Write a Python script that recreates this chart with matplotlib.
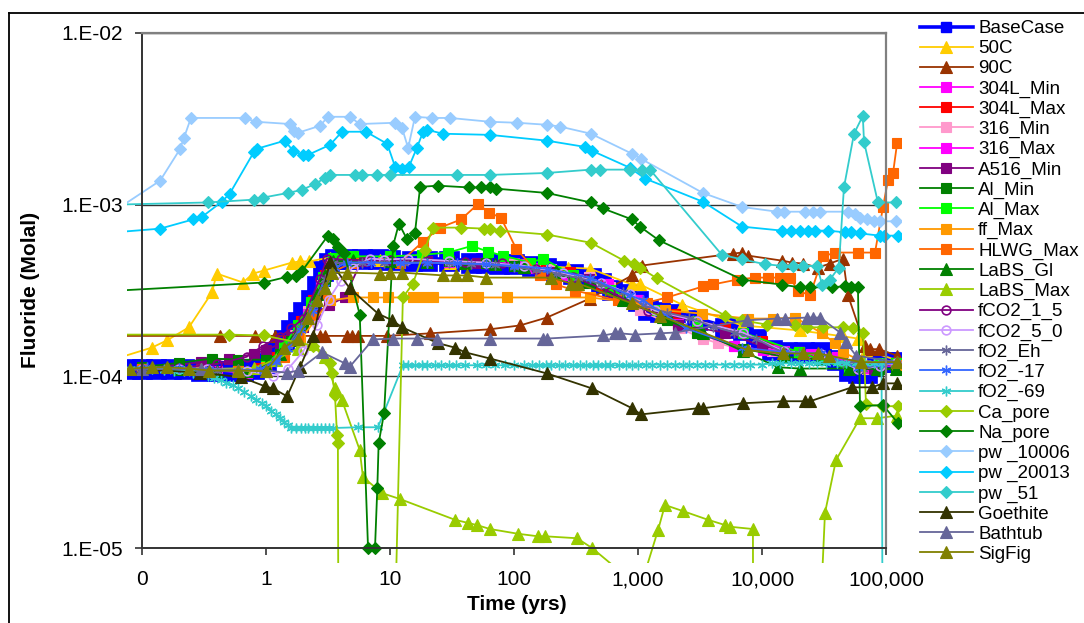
import matplotlib
matplotlib.use("Agg")
import matplotlib.pyplot as plt
from matplotlib.transforms import Bbox, TransformedBbox
from matplotlib.ticker import NullLocator, FixedLocator, FixedFormatter
from matplotlib.lines import Line2D

plt.rcParams['font.family'] = ['Liberation Sans', 'DejaVu Sans']

# ---------------- data: time (yrs) and fluoride (units of 1e-4 molal) ----------------
t_basecase = [0.06, 0.08, 0.1, 0.13, 0.17, 0.22, 0.3, 0.4, 0.5, 0.65, 0.8, 1.0, 1.2, 1.4, 1.6, 1.8, 2.0, 2.3, 2.6, 2.9,
              3.2, 3.6, 4.5, 6, 8, 10, 15, 20, 30, 45, 60, 75, 100, 140, 180, 220, 300, 420, 500, 620,
              800, 1000, 1200, 1500, 2000, 3000, 5000, 7000, 9000, 12000, 16000, 22000, 30000, 40000, 50000,
              60000, 70000, 85000, 100000, 120000]
f_basecase = [1.11, 1.11, 1.11, 1.11, 1.11, 1.1, 1.08, 1.07, 1.07, 1.08, 1.1, 1.2, 1.38, 1.62, 1.85, 2.06, 2.36, 2.77, 3.38, 4.13,
              4.6, 4.85, 4.85, 4.85, 4.85, 4.79, 4.72, 4.72, 4.67, 4.6, 4.6, 4.54, 4.5, 4.4, 4.3, 4.1, 3.95, 3.76, 3.5, 3.2,
              3.0, 2.75, 2.45, 2.36, 2.32, 2.12, 1.9, 1.85, 1.66, 1.42, 1.38, 1.38, 1.38, 1.24, 1.08,
              1.05, 1.05, 1.21, 1.21, 1.21]

t_50c = [0.06, 0.12, 0.159, 0.239, 0.367, 0.40, 0.653, 0.786, 0.96, 1.62, 1.88, 2.22, 3.28, 8.3, 30.5, 112, 272, 410,
         895, 1037, 2260, 6900, 20200, 45000, 59400, 69000, 123000]
f_50c = [1.26, 1.47, 1.62, 1.93, 3.08, 3.97, 3.52, 3.97, 4.13, 4.6, 4.67, 4.67, 4.92, 4.79, 4.6, 4.48, 4.3, 4.24,
         3.43, 3.43, 2.62, 1.98, 1.85, 1.71, 1.66, 1.42, 1.24]

t_90c = [0.06, 0.426, 0.815, 1.18, 2.72, 3.0, 4.5, 4.94, 5.5, 9.5, 21, 64, 112, 184, 410, 895, 1076, 5840, 6900, 7700,
         14500, 17500, 21400, 28300, 35300, 45000, 49400, 67800, 74300, 87900, 123000]
f_90c = [1.72, 1.72, 1.72, 1.72, 1.72, 1.72, 1.72, 1.72, 1.72, 1.72, 1.78, 1.88, 1.98, 2.2, 2.84, 3.87, 4.42, 5.19, 5.26, 5.05,
         4.72, 4.6, 4.54, 4.3, 4.54, 4.85, 2.96, 1.51, 1.44, 1.44, 1.32]

t_304l_min = [0.06, 0.1, 0.2, 0.4, 0.7, 1.0, 1.3, 1.6, 2.0, 2.5, 3.0, 3.5, 5, 10, 20, 50, 100, 118, 142, 250,
              573, 1000, 2100, 3050, 6000, 10200, 15000, 25000, 40000, 60000, 80000, 120000]
f_304l_min = [1.1, 1.1, 1.1, 1.08, 1.05, 1.12, 1.3, 1.6, 2.0, 2.7, 3.7, 4.6, 4.8, 4.75, 4.7, 4.6, 4.55, 4.54, 4.3, 3.9,
              3.43, 2.8, 2.03, 1.78, 1.5, 1.42, 1.4, 1.35, 1.3, 1.2, 1.15, 1.15]

t_304l_max = [0.06, 0.1, 0.3, 0.6, 0.9, 1.2, 1.5, 1.9, 2.4, 3.0, 3.5, 5, 10, 30, 60, 100, 180, 283, 500, 1000,
              2000, 5000, 10000, 20000, 50000, 90000, 120000]
f_304l_max = [1.1, 1.1, 1.08, 1.07, 1.12, 1.3, 1.6, 2.1, 2.8, 3.9, 4.7, 4.85, 4.8, 4.7, 4.6, 4.45, 4.2, 4.08, 3.4, 2.7,
              2.3, 1.9, 1.6, 1.38, 1.12, 1.2, 1.2]

t_316_min = [0.06, 0.1, 0.3, 0.6, 1.0, 1.3, 1.7, 2.2, 2.8, 3.4, 5, 10, 30, 60, 100, 200, 400, 600, 1037, 2180,
             3340, 4420, 7300, 12000, 20000, 40000, 70000, 120000]
f_316_min = [1.1, 1.1, 1.08, 1.07, 1.15, 1.35, 1.75, 2.4, 3.4, 4.5, 4.8, 4.75, 4.7, 4.6, 4.5, 4.2, 3.8, 3.3, 2.42, 1.9,
             1.66, 1.56, 1.42, 1.4, 1.38, 1.3, 1.1, 1.2]

t_316_max = [0.06, 0.1, 0.3, 0.6, 1.0, 1.3, 1.7, 2.2, 2.8, 3.4, 5, 10, 30, 60, 118, 142, 300, 573, 1000, 2100,
             3050, 6000, 10200, 13000, 20000, 40000, 70000, 120000]
f_316_max = [1.1, 1.1, 1.08, 1.07, 1.12, 1.32, 1.7, 2.3, 3.3, 4.4, 4.75, 4.7, 4.65, 4.6, 4.54, 4.3, 3.85, 3.43, 2.8, 2.03,
             1.78, 1.5, 1.42, 1.43, 1.38, 1.3, 1.12, 1.2]

t_a516_min = [0.06, 0.1, 0.2, 0.3, 0.5, 0.8, 1.0, 1.3, 1.6, 2.0, 2.5, 3.2, 4.3, 5.9, 10, 20, 50, 100, 200, 400,
              800, 2100, 5000, 10000, 20000, 50000, 80000, 120000]
f_a516_min = [1.12, 1.13, 1.17, 1.21, 1.27, 1.35, 1.42, 1.55, 1.7, 1.95, 2.3, 2.6, 2.88, 4.72, 4.75, 4.7, 4.6, 4.4, 4.05, 3.7,
              2.9, 2.0, 1.8, 1.5, 1.38, 1.1, 1.1, 1.2]

t_al_min = [0.06, 0.1, 0.2, 0.37, 0.6, 1.0, 1.3, 1.6, 2.0, 2.5, 3.0, 3.5, 5, 10, 30, 60, 100, 214, 400, 800,
            1714, 3000, 7000, 15000, 30000, 60000, 90000, 120000]
f_al_min = [1.12, 1.13, 1.2, 1.27, 1.25, 1.25, 1.35, 1.6, 2.0, 2.7, 3.6, 4.6, 4.8, 4.75, 4.7, 4.6, 4.4, 3.97, 3.5, 2.8,
            2.12, 1.8, 1.45, 1.3, 1.25, 1.12, 1.1, 1.1]

t_al_max = [0.06, 0.1, 0.3, 0.6, 1.0, 1.4, 1.8, 2.3, 2.9, 3.5, 5, 10, 18, 29.4, 45.8, 61.6, 81.5, 135, 171, 300,
            600, 1422, 3000, 7000, 20000, 50000, 90000, 120000]
f_al_max = [1.11, 1.11, 1.09, 1.08, 1.15, 1.5, 2.0, 2.7, 3.8, 4.9, 5.0, 5.0, 5.1, 5.26, 5.75, 5.33, 5.05, 4.6, 4.85, 3.9,
            3.2, 2.42, 2.1, 1.8, 1.38, 1.1, 1.2, 1.2]

t_ff_max = [0.06, 0.1, 0.3, 0.6, 1.0, 1.88, 3.28, 5.0, 7.3, 9.6, 15.3, 18.5, 22.2, 42.6, 51.3, 88, 410, 1037, 1650, 3280,
            7700, 12300, 18500, 30500, 38800, 45000, 61700, 123000]
f_ff_max = [1.1, 1.1, 1.09, 1.08, 1.13, 1.62, 2.77, 2.88, 2.88, 2.88, 2.88, 2.88, 2.88, 2.88, 2.88, 2.88, 2.88, 2.66, 2.42, 2.32,
            2.17, 2.17, 2.2, 1.78, 1.56, 1.38, 1.24, 1.16]

t_hlwg_max = [0.06, 0.1, 0.3, 0.6, 1.0, 1.4, 1.8, 2.3, 2.8, 3.3, 5, 12, 18.5, 25.3, 37.4, 51.3, 62.8, 78.5, 104, 162,
              218, 310, 690, 1183, 1714, 3340, 4030, 6290, 8780, 11200, 14000, 16800, 19500, 24400, 31000, 38800,
              59400, 81500, 94600, 104000, 114000, 123000]
f_hlwg_max = [1.1, 1.1, 1.09, 1.08, 1.12, 1.3, 1.7, 2.3, 3.0, 4.0, 4.6, 4.6, 6.1, 7.35, 8.2, 10.1, 9.0, 8.4, 5.55, 3.87,
              3.43, 3.16, 2.77, 2.69, 2.88, 3.34, 3.43, 3.66, 3.76, 3.76, 3.76, 3.76, 3.16, 2.96, 4.99, 5.26,
              5.26, 5.26, 9.7, 14.0, 15.3, 22.9]

t_labs_gl = [0.06, 0.1, 0.2, 0.4, 0.7, 1.0, 1.3, 1.7, 2.1, 2.6, 3.0, 3.5, 5, 10, 20, 40, 70, 120, 220, 400,
             757, 1592, 3340, 7000, 13450, 20200, 50000, 85000, 120000]
f_labs_gl = [1.1, 1.1, 1.1, 1.08, 1.08, 1.15, 1.35, 1.7, 2.2, 3.0, 3.9, 4.7, 4.75, 4.7, 4.65, 4.6, 4.5, 4.35, 4.1, 3.6,
             2.77, 2.23, 1.8, 1.4, 1.13, 1.11, 1.11, 1.11, 1.11]

t_labs_max = [0.06, 0.3, 0.8, 1.2, 1.8, 2.4, 3.0, 3.6, 4.1, 5.7, 6.05, 8.6, 12, 33.4, 42.6, 50.3, 64, 108, 156, 178,
              322, 426, 1037, 1138, 1450, 1650, 2310, 3670, 5040, 5520, 8450, 8500, 29000, 32200, 39500,
              61700, 84500, 123000]
f_labs_max = [1.12, 1.1, 1.12, 1.25, 1.45, 1.55, 1.3, 0.85, 0.725, 0.372, 0.259, 0.209, 0.193, 0.146, 0.140, 0.136, 0.129, 0.121, 0.117, 0.117,
              0.114, 0.100, 0.0585, 0.072, 0.127, 0.178, 0.164, 0.146, 0.136, 0.133, 0.129, 0.01, 0.03, 0.16, 0.325,
              0.57, 0.57, 0.59]

t_fco2_1_5 = [0.06, 0.1, 0.2, 0.4, 0.7, 0.95, 1.3, 1.6, 1.99, 2.72, 3.1, 4, 6.6, 10, 20, 40, 80, 150, 300, 600,
              1200, 3000, 7000, 15000, 30000, 60000, 90000, 120000]
f_fco2_1_5 = [1.1, 1.1, 1.12, 1.18, 1.3, 1.51, 1.7, 1.9, 2.17, 3.71, 4.85, 4.8, 4.72, 4.75, 4.7, 4.65, 4.55, 4.2, 3.8, 3.1,
              2.4, 2.1, 1.8, 1.4, 1.35, 1.1, 1.15, 1.2]

t_fco2_5_0 = [0.06, 0.1, 0.2, 0.334, 0.7, 1.14, 1.5, 2.0, 2.6, 3.2, 4.0, 5.0, 6.9, 9.0, 14, 30, 60, 120, 250, 500,
              861, 1364, 3000, 7000, 15000, 30000, 60000, 90000, 120000]
f_fco2_5_0 = [1.11, 1.11, 1.11, 1.11, 1.08, 1.01, 1.1, 1.4, 2.0, 2.8, 3.6, 4.3, 4.85, 4.79, 4.85, 4.7, 4.6, 4.4, 4.0, 3.5,
              3.03, 2.42, 2.1, 1.8, 1.4, 1.35, 1.1, 1.15, 1.2]

t_fo2_eh = [0.06, 0.1, 0.15, 0.25, 0.4, 0.6, 0.9, 1.2, 1.5, 1.9, 2.4, 3.0, 3.5, 4.5, 6, 9, 13, 20, 30, 45,
            70, 100, 150, 220, 330, 500, 750, 1100, 1700, 2600, 4000, 6000, 9000, 14000, 20000, 30000, 45000, 65000,
            90000, 120000]
f_fo2_eh = [1.1, 1.1, 1.1, 1.09, 1.08, 1.07, 1.1, 1.25, 1.5, 1.95, 2.6, 3.7, 4.55, 4.6, 4.6, 4.6, 4.6, 4.6, 4.55, 4.5,
            4.45, 4.35, 4.15, 3.95, 3.75, 3.45, 3.1, 2.6, 2.35, 2.2, 1.95, 1.8, 1.65, 1.4, 1.36, 1.36, 1.2, 1.1,
            1.18, 1.2]

t_fo2_m17 = [0.06, 0.11, 0.2, 0.35, 0.6, 0.9, 1.2, 1.5, 1.9, 2.4, 3.0, 3.6, 4.5, 7, 12, 20, 35, 60, 100, 184,
             410, 861, 1100, 2460, 6900, 15000, 30000, 60000, 90000, 120000]
f_fo2_m17 = [1.12, 1.13, 1.12, 1.1, 1.08, 1.1, 1.22, 1.45, 1.85, 2.4, 3.3, 4.3, 4.6, 4.6, 4.55, 4.6, 4.55, 4.5, 4.4, 4.24,
             3.76, 2.96, 2.77, 1.9, 1.47, 1.38, 1.36, 1.12, 1.18, 1.2]

t_fo2_m69 = [0.06, 0.08, 0.1, 0.12, 0.15, 0.18, 0.22, 0.26, 0.3, 0.34, 0.38, 0.43, 0.48, 0.54, 0.6, 0.67, 0.75, 0.83,
             0.92, 1.0, 1.1, 1.2, 1.3, 1.4, 1.5, 1.6, 1.75, 1.9, 2.05, 2.2, 2.4, 2.6, 2.8, 3.0, 3.2, 3.45,
             5.5, 8.0, 12.7, 14, 16, 18, 20, 23, 26, 30, 34, 40, 50, 60, 70, 85, 100, 120, 140, 160, 180, 200, 230,
             260, 300, 340, 380, 430, 480, 540, 600, 700, 800, 900, 1000, 1150, 1300, 1500, 1700, 2000, 2300,
             2600, 3000, 3500, 4000, 5000, 6000, 7000, 8000, 10000, 12000, 14000, 17000, 20000, 24000, 28000,
             33000, 40000, 48000, 57000, 68000, 80000, 92000, 94500]
f_fo2_m69 = ([1.1, 1.1, 1.1, 1.1, 1.09, 1.08, 1.07, 1.05, 1.03, 1.01, 0.98, 0.95, 0.92, 0.89, 0.85, 0.81, 0.77, 0.73,
              0.70, 0.67, 0.63, 0.6, 0.57, 0.54, 0.52] + [0.5] * 11 + [0.505, 0.505, 1.16] + [1.16] * 32
             + [1.17] * 15 + [1.19] * 8 + [1.2] * 5 + [0.01])

t_ca_pore = [0.06, 0.5, 0.96, 2.4, 3.28, 3.4, 3.6, 3.74, 3.8, 3.85, 10.5, 12.7, 15.3, 19.1, 22.2, 37.4, 57.3, 64, 77,
             184, 417, 771, 929, 1037, 1422, 5040, 6900, 11000, 18500, 23100, 31000, 45000, 54200, 65300, 69000,
             94600, 125000]
f_ca_pore = [1.75, 1.75, 1.73, 1.51, 1.19, 1.04, 0.776, 0.454, 0.408, 0.01, 0.01, 2.88, 3.47, 5.47, 7.35, 7.35, 7.25, 7.25, 7.06,
             6.7, 6.0, 4.72, 4.5, 4.3, 3.72, 2.26, 2.12, 2.0, 2.0, 1.93, 1.93, 1.93, 1.9, 1.8, 0.687,
             0.67, 0.67]

t_na_pore = [0.06, 0.96, 1.48, 1.75, 1.95, 3.16, 3.47, 3.8, 4.26, 5.7, 6.65, 7.57, 7.9, 8.1, 8.96, 10.6, 11.8, 13.7,
             15.9, 17.5, 24.4, 43.3, 54, 64, 71.6, 184, 417, 522, 895, 1037, 1476, 6900, 14500, 20200, 24400,
             36700, 46700, 52000, 59400, 61700, 94600, 125000]
f_na_pore = [3.15, 3.52, 3.8, 3.85, 4.1, 6.6, 6.3, 5.7, 5.2, 2.29, 0.1, 0.1, 0.223, 0.408, 0.61, 5.78, 7.76, 6.3,
             6.87, 12.7, 12.9, 12.6, 12.6, 12.6, 12.4, 11.7, 10.3, 9.5, 8.2, 7.45, 6.2, 3.66, 3.42, 3.3, 3.3,
             3.3, 3.35, 3.3, 3.3, 0.67, 0.68, 0.533]

t_pw_10006 = [0.06, 0.14, 0.202, 0.218, 0.248, 0.675, 0.83, 1.56, 1.68, 1.8, 2.72, 3.16, 4.75, 5.7, 11, 12.5, 14, 15.9,
              21.8, 30.5, 64, 106, 184, 235, 417, 895, 1056, 3340, 6900, 13200, 15000, 22200, 26000, 29400, 49400,
              56000, 61700, 70000, 80000, 89500, 120000]
f_pw_10006 = [9.2, 13.8, 21, 24.5, 32, 32, 30.4, 29.5, 27, 26.2, 28.8, 32.5, 32.5, 29.5, 30, 28, 21.4, 32.5,
              32, 32, 30.4, 30, 29.2, 28.5, 25.9, 19.8, 18.5, 11.7, 9.7, 9.1, 9.1, 9.1, 9.1, 9.1, 9.1,
              8.8, 8.4, 8.2, 8.0, 8.0, 8.0]

t_pw_20013 = [0.06, 0.14, 0.258, 0.305, 0.44, 0.51, 0.80, 0.85, 1.42, 1.65, 1.99, 2.18, 3.28, 4.1, 6.4, 9.5, 11, 12.5,
              14.2, 16.5, 18.5, 19.9, 26.7, 64, 184, 374, 426, 861, 1138, 3340, 6900, 14500, 17000, 20200, 23500,
              26700, 34000, 46700, 52000, 61700, 89500, 96000, 125000]
f_pw_20013 = [6.9, 7.25, 8.2, 8.5, 10.4, 11.6, 20.3, 21.2, 23.6, 20.6, 19.5, 19.5, 22.3, 26.6, 26.6, 22.6, 16.6, 16.2,
              16.6, 21.5, 26.6, 27.3, 25.9, 25.5, 23.6, 21.7, 20.6, 16.4, 14.2, 10.4, 7.45, 7.06, 7.06, 7.06, 7.06,
              7.06, 7.06, 6.9, 6.9, 6.8, 6.6, 6.6, 6.6]

t_pw_51 = [0.06, 0.34, 0.80, 0.95, 1.5, 1.95, 2.48, 3.0, 3.28, 5.2, 5.9, 7.9, 10, 34.7, 64, 184, 417, 494, 861, 1076,
           1250, 4750, 6900, 10600, 14500, 17800, 21400, 27800, 30500, 35300, 41600, 45800, 55200, 65000, 66500,
           86100, 120000]
f_pw_51 = [10, 10.3, 10.7, 11, 11.7, 12.2, 13.2, 14.3, 14.9, 14.9, 14.9, 14.9, 14.9, 14.9, 14.9, 15.3, 16, 16, 16, 16,
           16, 5.1, 4.8, 4.5, 4.4, 4.4, 4.4, 4.4, 3.42, 3.66, 4.3, 12.6, 25.9, 32.9, 23.2,
           10.3, 10.3]

t_goethite = [0.06, 0.1, 0.294, 0.628, 0.98, 1.14, 1.48, 1.88, 2.4, 3.28, 4.75, 8, 10.4, 12.5, 24.4, 33.4, 40.3, 64,
              184, 426, 895, 1056, 3050, 3340, 7030, 14800, 22200, 24400, 53200, 77100, 94600, 123000]
f_goethite = [1.1, 1.1, 1.05, 0.99, 0.875, 0.85, 0.765, 1.13, 1.71, 4.66, 3.25, 2.32, 2.12, 1.93, 1.56, 1.47, 1.38, 1.27,
              1.04, 0.85, 0.652, 0.6, 0.652, 0.652, 0.697, 0.716, 0.716, 0.716, 0.863, 0.863, 0.91, 0.91]

t_bathtub = [0.06, 0.1, 0.3, 0.6, 1.0, 1.48, 1.81, 2.83, 4.33, 4.75, 7.3, 10.6, 16.5, 23.9, 64, 171, 184, 522, 653, 716,
             946, 1500, 1990, 7570, 13200, 15300, 23100, 25800, 29400, 42600, 47500, 57300, 123000]
f_bathtub = [1.1, 1.1, 1.1, 1.09, 1.08, 1.05, 1.08, 1.38, 1.19, 1.14, 1.64, 1.66, 1.66, 1.66, 1.66, 1.66, 1.66, 1.73, 1.78, 1.78,
             1.75, 1.78, 1.8, 2.12, 2.17, 2.17, 2.2, 2.2, 2.2, 1.8, 1.58, 1.32, 1.21]

t_sigfig = [0.06, 0.08, 0.12, 0.16, 0.24, 0.35, 0.6, 1.0, 1.4, 1.8, 2.2, 2.6, 3.0, 3.4, 4.5, 8.3, 10, 12.5, 27, 34,
            42, 60, 200, 290, 330, 900, 1500, 7700, 14800, 21400, 28300, 34700, 63000, 123000]
f_sigfig = [1.11, 1.11, 1.13, 1.13, 1.11, 1.08, 1.08, 1.07, 1.47, 1.66, 2.2, 2.77, 3.25, 4.02, 4.02, 3.97, 4.02, 4.02, 3.87, 3.87,
            3.87, 3.76, 3.76, 3.47, 3.47, 2.66, 2.26, 1.42, 1.36, 1.36, 1.36, 1.32, 1.21, 1.21]

x_ticks = [0.1, 1, 10, 100, 1000, 10000, 100000]
x_tick_labels = ["0", "1", "10", "100", "1,000", "10,000", "100,000"]
y_ticks = [1e-5, 1e-4, 1e-3, 1e-2]
y_tick_labels = ["1.E-05", "1.E-04", "1.E-03", "1.E-02"]

UNIT = 1e-4
ASTER = (6, 2, 0)

# label, times, values, color, marker, open-marker
series = [
    ("BaseCase", t_basecase, f_basecase, "#0000FF", "s", False),
    ("50C", t_50c, f_50c, "#FFCC00", "^", False),
    ("90C", t_90c, f_90c, "#993300", "^", False),
    ("304L_Min", t_304l_min, f_304l_min, "#FF00FF", "s", False),
    ("304L_Max", t_304l_max, f_304l_max, "#FF0000", "s", False),
    ("316_Min", t_316_min, f_316_min, "#FF99CC", "s", False),
    ("316_Max", t_316_max, f_316_max, "#FF00FF", "s", False),
    ("A516_Min", t_a516_min, f_a516_min, "#800080", "s", False),
    ("Al_Min", t_al_min, f_al_min, "#008000", "s", False),
    ("Al_Max", t_al_max, f_al_max, "#00FF00", "s", False),
    ("ff_Max", t_ff_max, f_ff_max, "#FF9900", "s", False),
    ("HLWG_Max", t_hlwg_max, f_hlwg_max, "#FF6600", "s", False),
    ("LaBS_Gl", t_labs_gl, f_labs_gl, "#008000", "^", False),
    ("LaBS_Max", t_labs_max, f_labs_max, "#99CC00", "^", False),
    ("fCO2_1_5", t_fco2_1_5, f_fco2_1_5, "#800080", "o", True),
    ("fCO2_5_0", t_fco2_5_0, f_fco2_5_0, "#CC99FF", "o", True),
    ("fO2_Eh", t_fo2_eh, f_fo2_eh, "#666699", ASTER, False),
    ("fO2_-17", t_fo2_m17, f_fo2_m17, "#3366FF", ASTER, False),
    ("fO2_-69", t_fo2_m69, f_fo2_m69, "#33CCCC", ASTER, False),
    ("Ca_pore", t_ca_pore, f_ca_pore, "#99CC00", "D", False),
    ("Na_pore", t_na_pore, f_na_pore, "#008000", "D", False),
    ("pw _10006", t_pw_10006, f_pw_10006, "#99CCFF", "D", False),
    ("pw _20013", t_pw_20013, f_pw_20013, "#00CCFF", "D", False),
    ("pw _51", t_pw_51, f_pw_51, "#33CCCC", "D", False),
    ("Goethite", t_goethite, f_goethite, "#333300", "^", False),
    ("Bathtub", t_bathtub, f_bathtub, "#666699", "^", False),
    ("SigFig", t_sigfig, f_sigfig, "#808000", "^", False),
]

W, H = 1084, 623
fig = plt.figure(figsize=(W / 100, H / 100), dpi=100)
fig.patch.set_facecolor("white")
ax_l, ax_r, ax_t, ax_b = 142, 886, 33, 548
ax = fig.add_axes([ax_l / W, 1 - ax_b / H, (ax_r - ax_l) / W, (ax_b - ax_t) / H])
ax.set_xscale("log")
ax.set_yscale("log")
ax.set_xlim(0.1, 1e5)
ax.set_ylim(1e-5, 1e-2)

# outer chart frame (left and top edges visible)
fig.add_artist(Line2D([9 / W, 9 / W], [0, 1 - 13 / H], transform=fig.transFigure, color="black", lw=1.3))
fig.add_artist(Line2D([9 / W, 1], [1 - 13 / H, 1 - 13 / H], transform=fig.transFigure, color="black", lw=1.3))

pad = 15
clip = TransformedBbox(Bbox.from_extents(-pad / (ax_r - ax_l), -pad / (ax_b - ax_t),
                                         1 + pad / (ax_r - ax_l), 1 + pad / (ax_b - ax_t)), ax.transAxes)

marker_sizes = {"s": 6.8, "^": 8.0, "D": 6.3, "o": 6.3}
handles = []
for label, tt, ff, col, mk, hollow in series:
    ms = marker_sizes.get(mk, 7.0) if not isinstance(mk, tuple) else 7.0
    kw = dict(color=col, marker=mk, markersize=ms, lw=1.3, mec=col, mfc=col, mew=0.8)
    if hollow:
        kw.update(mfc="none", mew=1.2)
    if isinstance(mk, tuple):
        kw.update(mew=1.0)
    if label == "BaseCase":
        kw.update(lw=5.5, markersize=14.0, mew=0.5)
    ln, = ax.plot(tt, [f * UNIT for f in ff], label=label, **kw)
    ln.set_clip_path(None)
    ln.set_clip_box(clip)
    if label == "BaseCase":
        # legend sample drawn at the usual marker size
        ln = Line2D([], [], color=col, marker="s", markersize=7.0, lw=2.6, mec=col, mfc=col, label=label)
    handles.append(ln)

# axes styling
for s in ("top", "right"):
    ax.spines[s].set_color("#808080")
    ax.spines[s].set_linewidth(1.6)
for s in ("left", "bottom"):
    ax.spines[s].set_color("#333333")
    ax.spines[s].set_linewidth(1.4)
ax.set_axisbelow(True)
ax.yaxis.grid(True, which="major", color="#333333", lw=1.0)
ax.xaxis.set_major_locator(FixedLocator(x_ticks))
ax.xaxis.set_major_formatter(FixedFormatter(x_tick_labels))
ax.yaxis.set_major_locator(FixedLocator(y_ticks))
ax.yaxis.set_major_formatter(FixedFormatter(y_tick_labels))
ax.xaxis.set_minor_locator(NullLocator())
ax.yaxis.set_minor_locator(NullLocator())
ax.tick_params(axis="both", which="major", direction="out", length=5, width=1.2, color="#333333",
               labelsize=15, labelcolor="black")
ax.tick_params(axis="x", pad=11)
ax.tick_params(axis="y", pad=8.5)

fig.text(517 / W, 1 - 605 / H, "Time (yrs)", ha="center", va="center", fontsize=15, fontweight="bold")
fig.text(31 / W, 1 - 290 / H, "Fluoride (Molal)", ha="center", va="center", rotation=90,
         fontsize=15, fontweight="bold")

leg = fig.legend(handles=handles, labels=[s[0] for s in series], loc="upper left",
                 bbox_to_anchor=(920 / W, 1 - 20 / H),
                 frameon=False, fontsize=13.5, borderpad=0, borderaxespad=0, handlelength=2.8,
                 handletextpad=0.3, labelspacing=0.157, numpoints=1)

fig.savefig("out.png", dpi=100, facecolor="white")
